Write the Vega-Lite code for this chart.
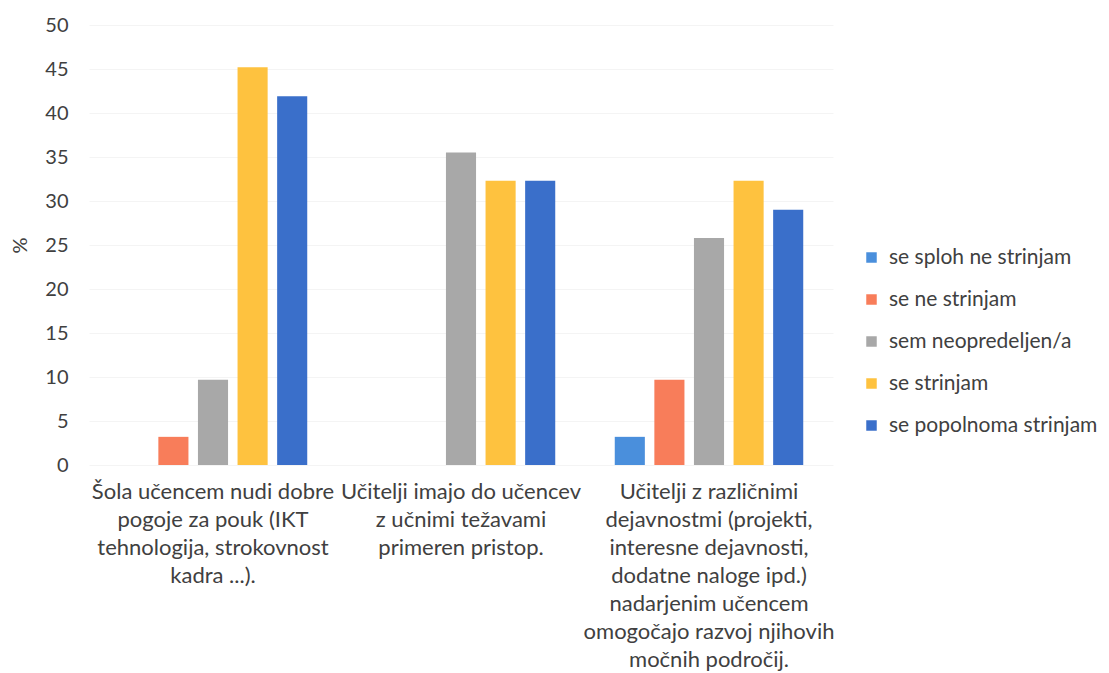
{
  "$schema": "https://vega.github.io/schema/vega-lite/v6.json",
  "width": 744,
  "height": 440,
  "autosize": {"type": "none"},
  "padding": {"left": 89, "top": 25, "right": 276, "bottom": 208},
  "background": "white",
  "config": {
    "font": "Lato",
    "view": {"stroke": null},
    "axis": {"labelFont": "Lato", "titleFont": "Lato"}
  },
  "data": {
    "values": [
      {"q": "Šola učencem nudi dobre|pogoje za pouk (IKT|tehnologija, strokovnost|kadra ...).", "odg": "se sploh ne strinjam", "p": 0},
      {"q": "Šola učencem nudi dobre|pogoje za pouk (IKT|tehnologija, strokovnost|kadra ...).", "odg": "se ne strinjam", "p": 3.2},
      {"q": "Šola učencem nudi dobre|pogoje za pouk (IKT|tehnologija, strokovnost|kadra ...).", "odg": "sem neopredeljen/a", "p": 9.7},
      {"q": "Šola učencem nudi dobre|pogoje za pouk (IKT|tehnologija, strokovnost|kadra ...).", "odg": "se strinjam", "p": 45.2},
      {"q": "Šola učencem nudi dobre|pogoje za pouk (IKT|tehnologija, strokovnost|kadra ...).", "odg": "se popolnoma strinjam", "p": 41.9},
      {"q": "Učitelji imajo do učencev|z učnimi težavami|primeren pristop.", "odg": "se sploh ne strinjam", "p": 0},
      {"q": "Učitelji imajo do učencev|z učnimi težavami|primeren pristop.", "odg": "se ne strinjam", "p": 0},
      {"q": "Učitelji imajo do učencev|z učnimi težavami|primeren pristop.", "odg": "sem neopredeljen/a", "p": 35.5},
      {"q": "Učitelji imajo do učencev|z učnimi težavami|primeren pristop.", "odg": "se strinjam", "p": 32.3},
      {"q": "Učitelji imajo do učencev|z učnimi težavami|primeren pristop.", "odg": "se popolnoma strinjam", "p": 32.3},
      {"q": "Učitelji z različnimi|dejavnostmi (projekti,|interesne dejavnosti,|dodatne naloge ipd.)|nadarjenim učencem|omogočajo razvoj njihovih|močnih področij.", "odg": "se sploh ne strinjam", "p": 3.2},
      {"q": "Učitelji z različnimi|dejavnostmi (projekti,|interesne dejavnosti,|dodatne naloge ipd.)|nadarjenim učencem|omogočajo razvoj njihovih|močnih področij.", "odg": "se ne strinjam", "p": 9.7},
      {"q": "Učitelji z različnimi|dejavnostmi (projekti,|interesne dejavnosti,|dodatne naloge ipd.)|nadarjenim učencem|omogočajo razvoj njihovih|močnih področij.", "odg": "sem neopredeljen/a", "p": 25.8},
      {"q": "Učitelji z različnimi|dejavnostmi (projekti,|interesne dejavnosti,|dodatne naloge ipd.)|nadarjenim učencem|omogočajo razvoj njihovih|močnih področij.", "odg": "se strinjam", "p": 32.3},
      {"q": "Učitelji z različnimi|dejavnostmi (projekti,|interesne dejavnosti,|dodatne naloge ipd.)|nadarjenim učencem|omogočajo razvoj njihovih|močnih področij.", "odg": "se popolnoma strinjam", "p": 29.0}
    ]
  },
  "mark": {"type": "bar"},
  "encoding": {
    "x": {
      "field": "q",
      "type": "nominal",
      "sort": null,
      "title": null,
      "scale": {"paddingInner": 0.24, "paddingOuter": 0.12},
      "axis": {
        "labelAngle": 0,
        "labelExpr": "split(datum.value, '|')",
        "labelFontSize": 22,
        "labelColor": "#404040",
        "labelLineHeight": 28,
        "labelPadding": 16,
        "labelBaseline": "top",
        "labelAlign": "center",
        "labelLimit": 400,
        "labelOverlap": false,
        "ticks": false,
        "domain": false
      }
    },
    "xOffset": {
      "field": "odg",
      "type": "nominal",
      "sort": ["se sploh ne strinjam", "se ne strinjam", "sem neopredeljen/a", "se strinjam", "se popolnoma strinjam"],
      "scale": {"paddingInner": 0.24, "paddingOuter": 0}
    },
    "y": {
      "field": "p",
      "type": "quantitative",
      "title": "%",
      "scale": {"domain": [0, 50]},
      "axis": {
        "values": [0, 5, 10, 15, 20, 25, 30, 35, 40, 45, 50],
        "labelFontSize": 20,
        "labelColor": "#404040",
        "labelPadding": 21,
        "titleFontSize": 20,
        "titleFontWeight": "normal",
        "titleColor": "#404040",
        "titlePadding": 14,
        "ticks": false,
        "domain": false,
        "gridColor": "#f4f4f4",
        "gridWidth": 1
      }
    },
    "color": {
      "field": "odg",
      "type": "nominal",
      "sort": ["se sploh ne strinjam", "se ne strinjam", "sem neopredeljen/a", "se strinjam", "se popolnoma strinjam"],
      "scale": {
        "domain": ["se sploh ne strinjam", "se ne strinjam", "sem neopredeljen/a", "se strinjam", "se popolnoma strinjam"],
        "range": ["#4a8fdc", "#f87d5a", "#a8a8a8", "#fec23f", "#3a6fca"]
      },
      "legend": {
        "title": null,
        "orient": "none",
        "legendX": 772,
        "legendY": 222,
        "symbolType": "square",
        "symbolSize": 110,
        "labelFontSize": 21,
        "labelColor": "#404040",
        "rowPadding": 20,
        "labelOffset": 7,
        "labelLimit": 300
      }
    }
  }
}
